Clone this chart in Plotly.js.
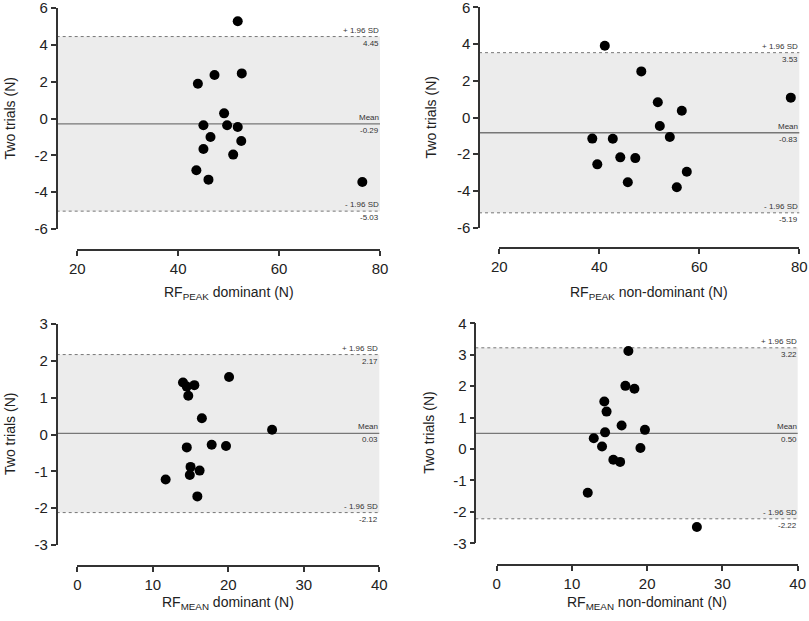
<!DOCTYPE html>
<html>
<head>
<meta charset="utf-8">
<script src="https://cdn.plot.ly/plotly-3.0.1.min.js"></script>
<style>
  html, body { margin: 0; padding: 0; background: #fff; }
  #chart { width: 809px; height: 621px; }
</style>
</head>
<body>
<div id="chart"></div>
<script>
// RF PEAK, dominant side
const peakDomX = [51.8, 43.9, 47.2, 52.6, 49.1, 45.0, 49.7, 51.8, 46.4, 52.5, 45.0, 50.9, 43.6, 46.0, 76.5];
const peakDomY = [5.28, 1.89, 2.36, 2.45, 0.28, -0.37, -0.37, -0.46, -1.00, -1.22, -1.66, -1.96, -2.81, -3.32, -3.45];
// RF PEAK, non-dominant side
const peakNonX = [41.1, 48.4, 78.3, 51.7, 56.5, 52.1, 54.1, 38.6, 42.7, 44.2, 47.2, 39.6, 57.5, 45.7, 55.5];
const peakNonY = [3.91, 2.51, 1.08, 0.83, 0.37, -0.46, -1.06, -1.15, -1.16, -2.17, -2.21, -2.55, -2.95, -3.53, -3.80];
// RF MEAN, dominant side
const meanDomX = [14.0, 14.5, 15.5, 20.1, 14.7, 16.5, 25.8, 14.5, 17.8, 19.7, 15.0, 16.2, 14.9, 11.7, 15.9];
const meanDomY = [1.41, 1.30, 1.34, 1.56, 1.05, 0.44, 0.13, -0.35, -0.28, -0.31, -0.88, -0.98, -1.10, -1.22, -1.68];
// RF MEAN, non-dominant side
const meanNonX = [17.5, 17.1, 18.3, 14.3, 14.6, 16.6, 19.7, 14.4, 12.9, 14.0, 19.1, 15.5, 16.4, 12.1, 26.6];
const meanNonY = [3.12, 2.01, 1.92, 1.51, 1.19, 0.75, 0.61, 0.53, 0.34, 0.08, 0.03, -0.34, -0.41, -1.39, -2.48];

// Bland-Altman bias and limits of agreement
const biasVals = [-0.29, -0.83, 0.03, 0.50];
const upperLoA = [4.45, 3.53, 2.17, 3.22];
const lowerLoA = [-5.03, -5.19, -2.12, -2.22];

const xTitles = [
  'RF<sub>PEAK</sub> dominant (N)',
  'RF<sub>PEAK</sub> non-dominant (N)',
  'RF<sub>MEAN</sub> dominant (N)',
  'RF<sub>MEAN</sub> non-dominant (N)'
];
const yTitle = 'Two trials (N)';
const xTicksPeak = [20, 40, 60, 80];
const xTicksMean = [0, 10, 20, 30, 40];
const yTicksPeak = [-6, -4, -2, 0, 2, 4, 6];
const yTicksMeanDom = [-3, -2, -1, 0, 1, 2, 3];
const yTicksMeanNon = [-3, -2, -1, 0, 1, 2, 3, 4];

const W = 809, H = 621;
const ink = '#333333';
const refLine = '#777777';

// pixel boxes of each panel: x-axis span, y-axis span, where the detached axis lines sit,
// and where the axis titles are centred
const boxes = [
  { l: 77.3, r: 380.0, t: 8.0, b: 229.0, yLineX: 56.7, xLineY: 250.0, xTitleY: 293, yTitleX: 10 },
  { l: 499.3, r: 799.3, t: 7.3, b: 227.7, yLineX: 479.0, xLineY: 248.3, xTitleY: 292.7, yTitleX: 431 },
  { l: 77.3, r: 379.3, t: 324.0, b: 545.0, yLineX: 56.7, xLineY: 566.0, xTitleY: 603, yTitleX: 9.5 },
  { l: 496.7, r: 797.7, t: 323.3, b: 543.3, yLineX: 475.3, xLineY: 565.3, xTitleY: 603.3, yTitleX: 429.5 }
];

const panels = [
  { x: peakDomX, y: peakDomY, xt: xTicksPeak, yt: yTicksPeak },
  { x: peakNonX, y: peakNonY, xt: xTicksPeak, yt: yTicksPeak },
  { x: meanDomX, y: meanDomY, xt: xTicksMean, yt: yTicksMeanDom },
  { x: meanNonX, y: meanNonY, xt: xTicksMean, yt: yTicksMeanNon }
];

const tickLabel = v => (v < 0 ? '-' + Math.abs(v) : String(v));
const fmt = v => (v < 0 ? '-' + Math.abs(v).toFixed(2) : v.toFixed(2));

const data = [];
const layout = {
  width: W,
  height: H,
  margin: { l: 0, r: 0, t: 0, b: 0 },
  paper_bgcolor: '#ffffff',
  plot_bgcolor: 'rgba(0,0,0,0)',
  font: { family: 'Liberation Sans, Arial, sans-serif', size: 14, color: '#222' },
  showlegend: false,
  shapes: [],
  annotations: []
};

panels.forEach((p, i) => {
  const n = i === 0 ? '' : String(i + 1);
  const bx = boxes[i];
  const xMin = p.xt[0], xMax = p.xt[p.xt.length - 1];
  const yMin = p.yt[0], yMax = p.yt[p.yt.length - 1];

  data.push({
    x: p.x,
    y: p.y,
    xaxis: 'x' + n,
    yaxis: 'y' + n,
    type: 'scatter',
    mode: 'markers',
    marker: { color: '#000', size: 10 },
    hoverinfo: 'x+y'
  });

  const common = {
    tickmode: 'array',
    ticks: 'outside',
    ticklen: 5,
    tickwidth: 1.5,
    tickcolor: ink,
    showline: true,
    linecolor: ink,
    linewidth: 1.5,
    showgrid: false,
    zeroline: false,
    ticklabeloverflow: 'allow',
    tickfont: { size: 15, color: '#222' }
  };

  layout['xaxis' + n] = Object.assign({}, common, {
    domain: [bx.l / W, bx.r / W],
    range: [xMin, xMax],
    anchor: 'free',
    position: 1 - bx.xLineY / H,
    tickvals: p.xt,
    ticktext: p.xt.map(tickLabel)
  });

  layout['yaxis' + n] = Object.assign({}, common, {
    domain: [1 - bx.b / H, 1 - bx.t / H],
    range: [yMin, yMax],
    anchor: 'free',
    position: bx.yLineX / W,
    tickvals: p.yt,
    ticktext: p.yt.map(tickLabel)
  });

  // band and reference lines run from the y-axis line to the right end of the x-axis
  const x0 = (bx.yLineX - bx.l) / (bx.r - bx.l);
  const xr = 'x' + n + ' domain';
  const yr = 'y' + n;
  layout.shapes.push(
    { type: 'rect', xref: xr, yref: yr, x0: x0, x1: 1, y0: lowerLoA[i], y1: upperLoA[i],
      fillcolor: '#ececec', line: { width: 0 }, layer: 'below' },
    { type: 'line', xref: xr, yref: yr, x0: x0, x1: 1, y0: upperLoA[i], y1: upperLoA[i],
      line: { color: refLine, width: 1, dash: 'dot' }, layer: 'below' },
    { type: 'line', xref: xr, yref: yr, x0: x0, x1: 1, y0: lowerLoA[i], y1: lowerLoA[i],
      line: { color: refLine, width: 1, dash: 'dot' }, layer: 'below' },
    { type: 'line', xref: xr, yref: yr, x0: x0, x1: 1, y0: biasVals[i], y1: biasVals[i],
      line: { color: refLine, width: 1.3 }, layer: 'below' }
  );

  const lab = (y, text, above) => ({
    xref: 'x' + n, yref: yr, x: xMax, y: y, text: text,
    xanchor: 'right', yanchor: above ? 'bottom' : 'top',
    yshift: above ? 1 : -1, showarrow: false, borderpad: 0,
    font: { size: 8, color: ink }
  });
  layout.annotations.push(
    lab(upperLoA[i], '+ 1.96 SD', true),
    lab(upperLoA[i], fmt(upperLoA[i]), false),
    lab(biasVals[i], 'Mean', true),
    lab(biasVals[i], fmt(biasVals[i]), false),
    lab(lowerLoA[i], '- 1.96 SD', true),
    lab(lowerLoA[i], fmt(lowerLoA[i]), false)
  );

  // axis titles, placed as in the original figure
  layout.annotations.push(
    { xref: 'paper', yref: 'paper', x: (bx.l + bx.r) / 2 / W, y: 1 - bx.xTitleY / H,
      xanchor: 'center', yanchor: 'middle', showarrow: false, text: xTitles[i],
      font: { size: 14, color: '#222' } },
    { xref: 'paper', yref: 'paper', x: bx.yTitleX / W, y: 1 - (bx.t + bx.b) / 2 / H,
      xanchor: 'center', yanchor: 'middle', textangle: -90, showarrow: false, text: yTitle,
      font: { size: 14, color: '#222' } }
  );
});

Plotly.newPlot('chart', data, layout, { displayModeBar: false, responsive: false });
</script>
</body>
</html>
